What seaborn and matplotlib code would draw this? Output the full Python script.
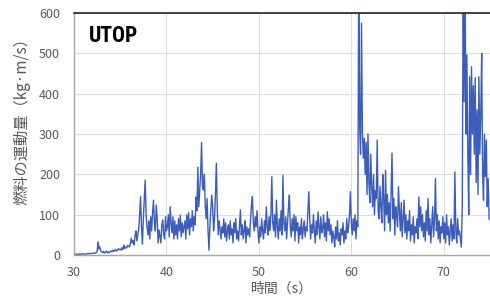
import numpy as np
import pandas as pd
import matplotlib
matplotlib.use("Agg")
import matplotlib.pyplot as plt
import seaborn as sns
from matplotlib import font_manager as fm

# ---- data (sampled every 0.1 s from 30.0 s) ----
t_start = 30.0
t_step = 0.1
seg_30_35 = [2,2,2,2,2,2,3,2,2,3, 3,3,2,3,3,3,4,3,4,4, 4,5,4,5,6,8,33,15,20,10,
             8,6,9,5,7,10,6,8,5,9, 10,8,12,9,11,14,10,12,16,13]
seg_35_40 = [15,12,18,14,25,16,20,18,24,22, 20,28,42,30,36,25,48,60,35,50,
             65,100,145,70,27,90,140,186,100,70, 50,85,40,95,60,105,136,80,60,124,
             90,30,62,45,30,75,87,50,40,95]
seg_40_45 = [60,70,100,45,120,80,55,95,40,85, 50,75,40,90,60,99,45,80,55,70,
             85,40,100,65,105,50,90,70,110,60, 95,75,144,110,218,120,160,200,279,170,
             161,200,120,90,140,60,12,70,110,149]
seg_45_50 = [120,60,90,150,228,110,50,85,65,40, 70,55,90,45,80,35,60,75,40,85,
             50,65,30,80,55,90,40,60,35,70, 112,50,75,40,60,85,30,70,50,65,
             45,90,124,145,80,60,95,70,110,60]
seg_50_55 = [30,70,45,90,60,40,85,55,120,70, 50,95,60,100,194,80,60,100,45,136,
             70,40,90,60,110,50,198,80,60,95, 40,80,120,149,70,45,90,60,100,35,
             95,60,80,30,70,50,90,40,65,85]
seg_55_60 = [45,70,60,110,157,90,40,75,55,100, 60,30,85,50,107,70,40,95,55,65,
             100,45,80,35,107,60,90,50,75,30, 60,45,20,70,40,85,35,55,25,65,
             50,80,30,60,40,90,55,70,100,157]
seg_60_65 = [80,50,90,60,100,40,85,70,700,320, 250,575,300,240,290,200,280,150,300,180,
             130,250,170,120,200,100,160,140,285,110, 90,170,120,80,200,140,60,210,100,150,
             80,130,60,160,253,90,140,50,120,100]
seg_65_70 = [70,170,110,60,130,45,90,136,55,100, 40,85,60,110,35,75,50,95,30,70,
             55,90,40,144,70,120,60,100,45,80, 35,110,60,140,50,90,30,75,120,45,
             90,190,60,100,40,85,30,70,55,95]
seg_70_75 = [40,80,30,100,50,70,25,60,90,35, 75,40,206,60,30,90,50,60,40,20,
             120,700,380,700,300,496,250,100,442,200, 467,300,420,250,440,180,360,150,442,250,
             350,500,200,136,300,194,285,120,190,90, 87]

values = seg_30_35 + seg_35_40 + seg_40_45 + seg_45_50 + seg_50_55 + seg_55_60 + seg_60_65 + seg_65_70 + seg_70_75
times = t_start + t_step * np.arange(len(values))
df = pd.DataFrame({"time": times, "momentum": values})

x_ticks = [30, 40, 50, 60, 70]
y_ticks = [0, 100, 200, 300, 400, 500, 600]
title_text = "UTOP"
xlabel_text = "時間（s）"
ylabel_text = "燃料の運動量（kg·m/s）"

# ---- style ----
sns.set_theme(style="white")
plt.rcParams["font.family"] = ["Noto Sans CJK JP", "DejaVu Sans"]

names = {f.name for f in fm.fontManager.ttflist}
cands = ["Roboto Condensed", "Liberation Sans Narrow", "Open Sans Condensed",
         "Noto Sans Condensed", "DejaVu Sans Condensed"]
title_family = [c for c in cands if c in names] or ["Noto Sans CJK JP"]
title_family = title_family[:1]

fig = plt.figure(figsize=(4.9, 3.04), dpi=100)
ax = fig.add_axes([0.151, 0.161, 0.849, 0.796])

sns.lineplot(data=df, x="time", y="momentum", ax=ax, color="#3d5dbb", linewidth=1.0)

ax.set_xlim(30, 75)
ax.set_ylim(0, 600)
ax.set_xticks(x_ticks)
ax.set_yticks(y_ticks)
ax.grid(True, color="#dedede", linewidth=0.8)
ax.set_axisbelow(True)
ax.tick_params(axis="both", length=0, labelsize=9, labelcolor="#595959", pad=8)
ax.tick_params(axis="y", pad=10)

for side in ["left", "bottom"]:
    ax.spines[side].set_color("#a6a6a6")
    ax.spines[side].set_linewidth(1.0)
ax.spines["top"].set_color("#222222")
ax.spines["top"].set_linewidth(1.2)
ax.spines["right"].set_visible(False)

ax.set_xlabel(xlabel_text, fontsize=10, color="#595959", labelpad=2)
ax.set_ylabel(ylabel_text, fontsize=11, color="#595959")
ax.yaxis.set_label_coords(-0.105, 0.57)

ax.text(0.035, 0.95, title_text, transform=ax.transAxes, fontsize=15.5, fontweight="bold",
        family=title_family, color="black", va="top", ha="left")

fig.savefig("out.png", dpi=100)
